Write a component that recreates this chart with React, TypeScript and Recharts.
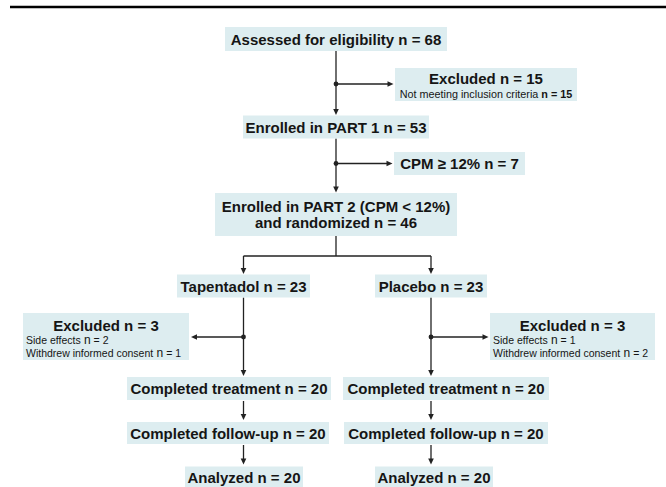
import React from 'react';
import { ScatterChart, Scatter, XAxis, YAxis, ReferenceLine, ReferenceDot } from 'recharts';

// ---------------- data ----------------
const enrolmentStages = ['Assessed for eligibility', 'Enrolled in PART 1', 'Enrolled in PART 2 (CPM < 12%)|and randomized'];
const enrolmentCounts = [68, 53, 46];
const screenOutLabels = ['Excluded', 'CPM ≥ 12%'];
const screenOutCounts = [15, 7];
const screenOutReasons = ['Not meeting inclusion criteria'];
const screenOutReasonCounts = [15];
const armNames = ['Tapentadol', 'Placebo'];
const armCounts = [23, 23];
const armExcludedLabel = 'Excluded';
const armExcludedCounts = [3, 3];
const dropoutReasons = ['Side effects', 'Withdrew informed consent'];
const tapentadolDropouts = [2, 1];
const placeboDropouts = [1, 2];
const followUpStages = ['Completed treatment', 'Completed follow-up', 'Analyzed'];
const tapentadolFollowUp = [20, 20, 20];
const placeboFollowUp = [20, 20, 20];

// ---------------- layout & style ----------------
const W = 666;
const H = 487;
const FONT = '"Liberation Sans", Arial, Helvetica, sans-serif';
const BOX_FILL = '#ddedf0';
const INK = '#151515';
const LINE = '#222';

const spineX = 336;
const armX = [243.5, 431];
const enrolBoxes = [
  { cy: 39, w: 222, h: 24 },
  { cy: 127, w: 186, h: 23 },
  { cy: 214.5, w: 242, h: 43 },
];
const screenOutBoxes = [
  { cx: 486, cy: 84.5, w: 182, h: 33 },
  { cx: 459.5, cy: 163.5, w: 131, h: 23 },
];
const armBoxes = [
  { cy: 286, w: 133, h: 23 },
  { cy: 286, w: 112, h: 23 },
];
const dropoutBoxes = [
  { cx: 106, cy: 336.5, w: 166, h: 47 },
  { cx: 572.5, cy: 336.5, w: 165, h: 47 },
];
const followRows = [
  { cy: 388.5, h: 23, cx: [229, 446], w: [204, 206] },
  { cy: 433, h: 22, cx: [228, 446], w: [202, 204] },
  { cy: 477.5, h: 22, cx: [244, 434], w: [118, 118] },
];

type Detail = { label: string; n: number };
type Node = {
  x: number; y: number; w: number; h: number;
  title: string[]; titleDy: number[];
  details?: Detail[]; detailDy?: number[]; detailAlign?: 'start' | 'middle'; boldCount?: boolean; detailSize?: number;
};

const nodes: Node[] = [];
enrolmentStages.forEach((s, i) => {
  const parts = s.split('|');
  parts[parts.length - 1] += ` n = ${enrolmentCounts[i]}`;
  const b = enrolBoxes[i];
  nodes.push({ x: spineX, y: b.cy, w: b.w, h: b.h, title: parts, titleDy: parts.length > 1 ? [-8, 8] : [0] });
});
screenOutLabels.forEach((s, i) => {
  const b = screenOutBoxes[i];
  const hasReason = i < screenOutReasons.length;
  nodes.push({
    x: b.cx, y: b.cy, w: b.w, h: b.h,
    title: [`${s} n = ${screenOutCounts[i]}`], titleDy: [hasReason ? -6 : 0],
    details: hasReason ? [{ label: screenOutReasons[i], n: screenOutReasonCounts[i] }] : undefined,
    detailDy: [9.5], detailAlign: 'middle', boldCount: true, detailSize: 10.8,
  });
});
armNames.forEach((a, i) => {
  const b = armBoxes[i];
  nodes.push({ x: armX[i], y: b.cy, w: b.w, h: b.h, title: [`${a} n = ${armCounts[i]}`], titleDy: [0] });
});
[tapentadolDropouts, placeboDropouts].forEach((counts, i) => {
  const b = dropoutBoxes[i];
  nodes.push({
    x: b.cx, y: b.cy, w: b.w, h: b.h,
    title: [`${armExcludedLabel} n = ${armExcludedCounts[i]}`], titleDy: [-11.5],
    details: dropoutReasons.map((r, k) => ({ label: r, n: counts[k] })),
    detailDy: [3.5, 16.5], detailAlign: 'start', detailSize: 10.5,
  });
});
followUpStages.forEach((s, r) => {
  const row = followRows[r];
  [tapentadolFollowUp, placeboFollowUp].forEach((counts, i) => {
    nodes.push({ x: row.cx[i], y: row.cy, w: row.w[i], h: row.h, title: [`${s} n = ${counts[r]}`], titleDy: [0] });
  });
});

// connectors derived from the box layout
type Seg = { x1: number; y1: number; x2: number; y2: number; arrow: boolean };
const segs: Seg[] = [];
const dots: { x: number; y: number }[] = [];
const top = (cy: number, h: number) => cy - h / 2;
const bot = (cy: number, h: number) => cy + h / 2;

segs.push({ x1: spineX, y1: bot(enrolBoxes[0].cy, enrolBoxes[0].h), x2: spineX, y2: top(enrolBoxes[1].cy, enrolBoxes[1].h) - 0.5, arrow: true });
segs.push({ x1: spineX, y1: screenOutBoxes[0].cy - 0.5, x2: screenOutBoxes[0].cx - screenOutBoxes[0].w / 2 - 1.5, y2: screenOutBoxes[0].cy - 0.5, arrow: true });
dots.push({ x: spineX, y: screenOutBoxes[0].cy - 0.5 });
segs.push({ x1: spineX, y1: bot(enrolBoxes[1].cy, enrolBoxes[1].h), x2: spineX, y2: top(enrolBoxes[2].cy, enrolBoxes[2].h) - 0.5, arrow: true });
segs.push({ x1: spineX, y1: screenOutBoxes[1].cy, x2: screenOutBoxes[1].cx - screenOutBoxes[1].w / 2 - 1.5, y2: screenOutBoxes[1].cy, arrow: true });
dots.push({ x: spineX, y: screenOutBoxes[1].cy });
const splitY = 256;
segs.push({ x1: spineX, y1: bot(enrolBoxes[2].cy, enrolBoxes[2].h), x2: spineX, y2: splitY, arrow: false });
segs.push({ x1: armX[0], y1: splitY, x2: armX[1], y2: splitY, arrow: false });
armX.forEach((ax, i) => {
  segs.push({ x1: ax, y1: splitY, x2: ax, y2: top(armBoxes[i].cy, armBoxes[i].h) - 0.5, arrow: true });
  segs.push({ x1: ax, y1: bot(armBoxes[i].cy, armBoxes[i].h), x2: ax, y2: top(followRows[0].cy, followRows[0].h) - 1, arrow: true });
  const d = dropoutBoxes[i];
  const edge = i === 0 ? d.cx + d.w / 2 + 2 : d.cx - d.w / 2 - 1.5;
  segs.push({ x1: ax, y1: 337, x2: edge, y2: 337, arrow: true });
  dots.push({ x: ax, y: 337 });
  for (let r = 0; r < followRows.length - 1; r++) {
    segs.push({ x1: ax, y1: bot(followRows[r].cy, followRows[r].h) + 1, x2: ax, y2: top(followRows[r + 1].cy, followRows[r + 1].h) - 2, arrow: true });
  }
});

// ---------------- renderers ----------------
const NodeShape = (props: any) => {
  const { cx, cy, payload } = props;
  const p = payload as Node;
  if (cx == null || cy == null) return null;
  const left = cx - p.w / 2;
  return (
    <g>
      <rect x={left} y={cy - p.h / 2} width={p.w} height={p.h} fill={BOX_FILL} />
      {p.title.map((t, i) => (
        <text
          key={'t' + i}
          x={cx}
          y={cy + p.titleDy[i]}
          textAnchor="middle"
          dominantBaseline="central"
          fontFamily={FONT}
          fontWeight={700}
          fontSize={15}
          fill={INK}
        >
          {t}
        </text>
      ))}
      {p.details &&
        p.details.map((d, i) => (
          <text
            key={'d' + i}
            x={p.detailAlign === 'start' ? left + 3 : cx}
            y={cy + (p.detailDy ? p.detailDy[i] : 0)}
            textAnchor={p.detailAlign === 'start' ? 'start' : 'middle'}
            dominantBaseline="central"
            fontFamily={FONT}
            fontSize={p.detailSize || 10.5}
            fill={INK}
          >
            {d.label}
            {p.boldCount ? (
              <tspan fontWeight={700}>{` n = ${d.n}`}</tspan>
            ) : (
              <>
                <tspan fontSize={12}>{'  n'}</tspan>
                <tspan>{` = ${d.n}`}</tspan>
              </>
            )}
          </text>
        ))}
    </g>
  );
};

const makeConnector = (arrow: boolean, width = 1.3) => (props: any) => {
  const { x1, y1, x2, y2 } = props;
  const dx = x2 - x1;
  const dy = y2 - y1;
  const len = Math.sqrt(dx * dx + dy * dy) || 1;
  const ux = dx / len;
  const uy = dy / len;
  const AL = 6;
  const AW = 2.8;
  const ex = arrow ? x2 - ux * AL : x2;
  const ey = arrow ? y2 - uy * AL : y2;
  return (
    <g>
      <line x1={x1} y1={y1} x2={ex + (arrow ? ux : 0)} y2={ey + (arrow ? uy : 0)} stroke={LINE} strokeWidth={width} />
      {arrow && (
        <polygon
          points={`${x2},${y2} ${ex - uy * AW},${ey + ux * AW} ${ex + uy * AW},${ey - ux * AW}`}
          fill={LINE}
        />
      )}
    </g>
  );
};

const RuleShape = (props: any) => {
  const { x1, y1, x2, y2 } = props;
  return <line x1={x1} y1={y1} x2={x2} y2={y2} stroke="#000" strokeWidth={2.5} />;
};

export default function App() {
  return (
    <div style={{ position: 'absolute', left: 0, top: 0, width: W, height: H, background: '#fff' }}>
      <ScatterChart width={W} height={H} margin={{ top: 0, right: 0, bottom: 0, left: 0 }}>
        <XAxis type="number" dataKey="x" domain={[0, W]} hide allowDataOverflow />
        <YAxis type="number" dataKey="y" domain={[0, H]} reversed hide allowDataOverflow />
        <ReferenceLine segment={[{ x: 10, y: 7 }, { x: W, y: 7 }]} ifOverflow="visible" shape={RuleShape} />
        {segs.map((s, i) => (
          <ReferenceLine
            key={'s' + i}
            segment={[{ x: s.x1, y: s.y1 }, { x: s.x2, y: s.y2 }]}
            ifOverflow="visible"
            shape={makeConnector(s.arrow)}
          />
        ))}
        {dots.map((d, i) => (
          <ReferenceDot key={'p' + i} x={d.x} y={d.y} r={2.4} fill={LINE} stroke="none" ifOverflow="visible" />
        ))}
        <Scatter data={nodes} shape={NodeShape} isAnimationActive={false} />
      </ScatterChart>
    </div>
  );
}
